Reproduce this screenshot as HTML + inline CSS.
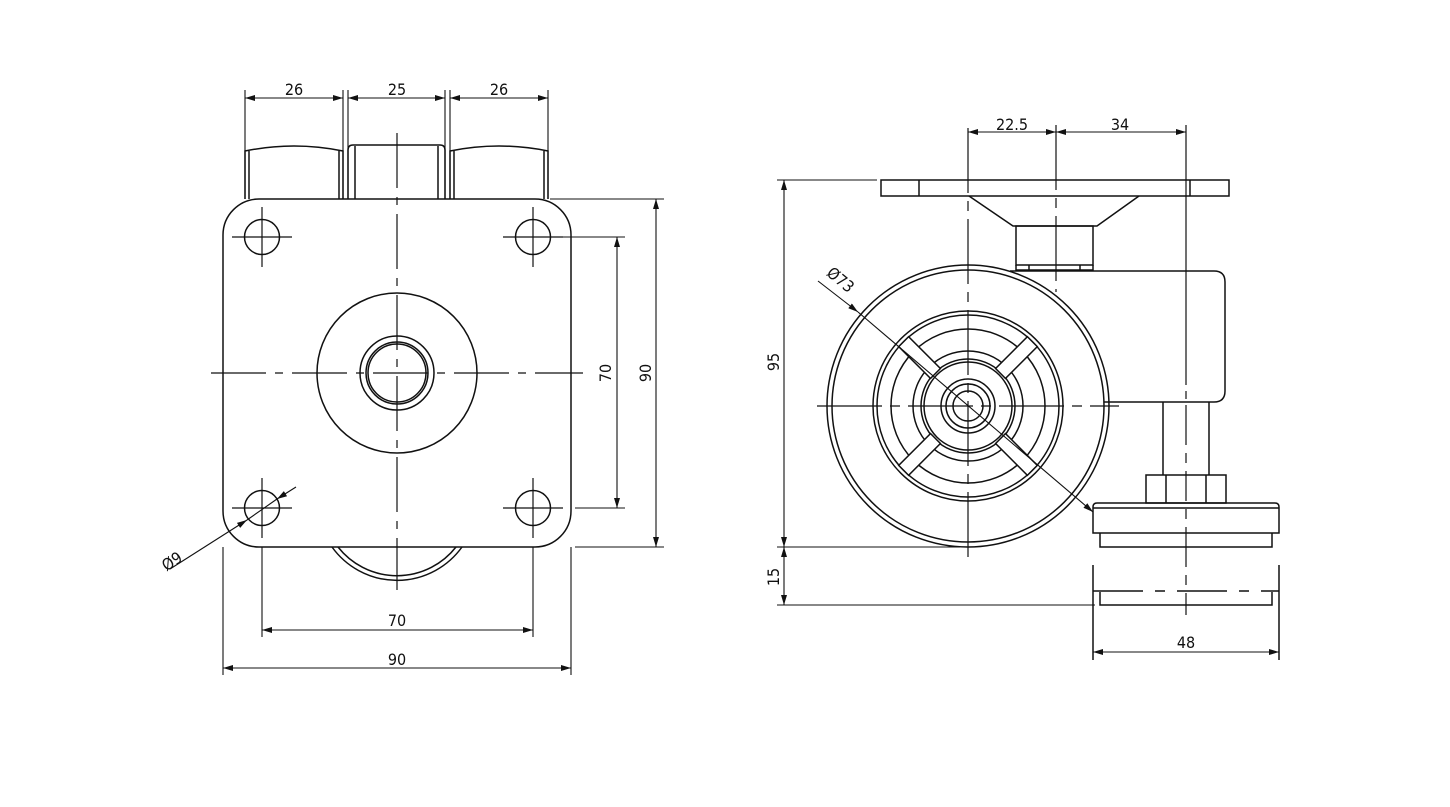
<!DOCTYPE html>
<html><head><meta charset="utf-8"><style>
html,body{margin:0;padding:0;background:#fff;}
svg text{font-family:"DejaVu Sans Condensed","Liberation Sans Narrow","Liberation Sans",sans-serif;font-size:16px;fill:#111;}
</style></head><body>
<svg width="1450" height="802" viewBox="0 0 1450 802" xmlns="http://www.w3.org/2000/svg">
<defs>
<marker id="a" viewBox="0 0 10 6" refX="10" refY="3" markerWidth="11" markerHeight="6" orient="auto-start-reverse" markerUnits="userSpaceOnUse"><path d="M0,0 L10,3 L0,6 z" fill="#111"/></marker>
</defs>
<g fill="none" stroke="#111" stroke-width="1.5">
<!-- LEFT VIEW -->
<path d="M245,199 V151 Q294,141 343,151 V199"/>
<line x1="249" y1="151" x2="249" y2="199"/><line x1="339" y1="151" x2="339" y2="199"/>
<path d="M348,199 V150 Q348,145 353,145 H440 Q445,145 445,150 V199"/>
<line x1="355" y1="146" x2="355" y2="199"/><line x1="438" y1="146" x2="438" y2="199"/>
<path d="M450,199 V151 Q499,141 548,151 V199"/>
<line x1="454" y1="151" x2="454" y2="199"/><line x1="544" y1="151" x2="544" y2="199"/>
<rect x="223" y="199" width="348" height="348" rx="36"/>
<path d="M332,547 A80,80 0 0 0 462,547"/>
<path d="M338,547 A75,75 0 0 0 456,547"/>
<circle cx="262" cy="237" r="17.5"/><circle cx="533" cy="237" r="17.5"/>
<circle cx="262" cy="508" r="17.5"/><circle cx="533" cy="508" r="17.5"/>
<g stroke-width="1.2">
<path d="M232,237h60M262,207v60M503,237h60M533,207v60M232,508h60M262,478v60M503,508h60M533,478v60"/>
</g>
<circle cx="397" cy="373" r="80"/>
<circle cx="397" cy="373" r="37"/>
<circle cx="397" cy="373" r="31"/>
<circle cx="397" cy="373" r="29"/>
<g stroke-width="1.2" stroke-dasharray="55,9,8,9">
<line x1="211" y1="373" x2="583" y2="373"/>
<line x1="397" y1="133" x2="397" y2="590"/>
</g>
<g stroke-width="1.1">
<path d="M245,90V199M343,90V199M348,90V199M445,90V199M450,90V199M548,90V199"/>
<line x1="245" y1="98" x2="343" y2="98" marker-start="url(#a)" marker-end="url(#a)"/>
<line x1="348" y1="98" x2="445" y2="98" marker-start="url(#a)" marker-end="url(#a)"/>
<line x1="450" y1="98" x2="548" y2="98" marker-start="url(#a)" marker-end="url(#a)"/>
<path d="M550,237H625M575,508H625M550,199H664M575,547H664"/>
<line x1="617" y1="237" x2="617" y2="508" marker-start="url(#a)" marker-end="url(#a)"/>
<line x1="656" y1="199" x2="656" y2="547" marker-start="url(#a)" marker-end="url(#a)"/>
<path d="M262,547V637M533,547V637M223,547V675M571,547V675"/>
<line x1="262" y1="630" x2="533" y2="630" marker-start="url(#a)" marker-end="url(#a)"/>
<line x1="223" y1="668" x2="571" y2="668" marker-start="url(#a)" marker-end="url(#a)"/>
<line x1="170" y1="569" x2="247" y2="520" marker-end="url(#a)"/>
<line x1="296" y1="487" x2="277" y2="499" marker-end="url(#a)"/>
<line x1="247" y1="520" x2="277" y2="499"/>
</g>

<!-- RIGHT VIEW -->
<rect x="881" y="180" width="348" height="16"/>
<path d="M919,180V196M1190,180V196"/>
<path d="M969,196L1013,226H1097L1139,196"/>
<rect x="1016" y="226" width="77" height="39"/>
<path d="M1016,265V270H1093V265M1029,265V270M1080,265V270"/>
<path d="M1010,271H1214Q1225,271 1225,282V391Q1225,402 1214,402H1104"/>
<path d="M1163,402V475M1209,402V475"/>
<rect x="1146" y="475" width="80" height="28"/>
<path d="M1166,475V503M1206,475V503"/>
<path d="M1093,533V507Q1093,503 1097,503H1275Q1279,503 1279,507V533Z"/>
<line x1="1093" y1="508" x2="1279" y2="508"/>
<path d="M1100,533V547H1272V533"/>
<path d="M1093,565V636M1279,565V636M1100,592V605H1272V592M1093,606V660M1279,606V660"/>
<line x1="1093" y1="591" x2="1279" y2="591" stroke-dasharray="50,12,10,12"/>
<circle cx="968" cy="406" r="141"/>
<circle cx="968" cy="406" r="136"/>
<circle cx="968" cy="406" r="95"/>
<circle cx="968" cy="406" r="91"/>
<circle cx="968" cy="406" r="77"/>
<circle cx="968" cy="406" r="55"/>
<circle cx="968" cy="406" r="47"/>
<circle cx="968" cy="406" r="44"/>
<circle cx="968" cy="406" r="27"/>
<circle cx="968" cy="406" r="22"/>
<circle cx="968" cy="406" r="15"/>
<g fill="#fff">
<g transform="translate(968,406)">
<rect x="46" y="-7" width="45" height="14" transform="rotate(45)"/>
<rect x="46" y="-7" width="45" height="14" transform="rotate(135)"/>
<rect x="46" y="-7" width="45" height="14" transform="rotate(225)"/>
<rect x="46" y="-7" width="45" height="14" transform="rotate(315)"/>
</g>
</g>
<g stroke-width="1.2" stroke-dasharray="65,8,10,8">
<line x1="817" y1="406" x2="1119" y2="406"/>
<line x1="968" y1="128" x2="968" y2="557"/>
<line x1="1056" y1="125" x2="1056" y2="292"/>
<line x1="1186" y1="125" x2="1186" y2="615" stroke-dasharray="260,6,8,6,40,8,10,8,30,8,10,8,40,8,10,8"/>
</g>
<g stroke-width="1.1">
<line x1="818" y1="281" x2="858" y2="312" marker-end="url(#a)"/>
<line x1="858" y1="312" x2="1093" y2="512" marker-end="url(#a)"/>
<line x1="968" y1="132" x2="1056" y2="132" marker-start="url(#a)" marker-end="url(#a)"/>
<line x1="1056" y1="132" x2="1186" y2="132" marker-start="url(#a)" marker-end="url(#a)"/>
<path d="M777,180H877M777,547H960M777,605H1095"/>
<line x1="784" y1="180" x2="784" y2="547" marker-start="url(#a)" marker-end="url(#a)"/>
<line x1="784" y1="547" x2="784" y2="605" marker-start="url(#a)" marker-end="url(#a)"/>
<line x1="1093" y1="652" x2="1279" y2="652" marker-start="url(#a)" marker-end="url(#a)"/>
</g>
</g>
<g>
<text x="294" y="95" text-anchor="middle">26</text>
<text x="397" y="95" text-anchor="middle">25</text>
<text x="499" y="95" text-anchor="middle">26</text>
<text transform="translate(611,373) rotate(-90)" text-anchor="middle">70</text>
<text transform="translate(651,373) rotate(-90)" text-anchor="middle">90</text>
<text x="397" y="626" text-anchor="middle">70</text>
<text x="397" y="665" text-anchor="middle">90</text>
<text transform="translate(175,566) rotate(-33)" text-anchor="middle">Ø9</text>
<text x="1012" y="130" text-anchor="middle">22.5</text>
<text x="1120" y="130" text-anchor="middle">34</text>
<text transform="translate(779,362) rotate(-90)" text-anchor="middle">95</text>
<text transform="translate(779,577) rotate(-90)" text-anchor="middle">15</text>
<text x="1186" y="648" text-anchor="middle">48</text>
<text transform="translate(837,284) rotate(40)" text-anchor="middle">Ø73</text>
</g>
</svg>
</body></html>
